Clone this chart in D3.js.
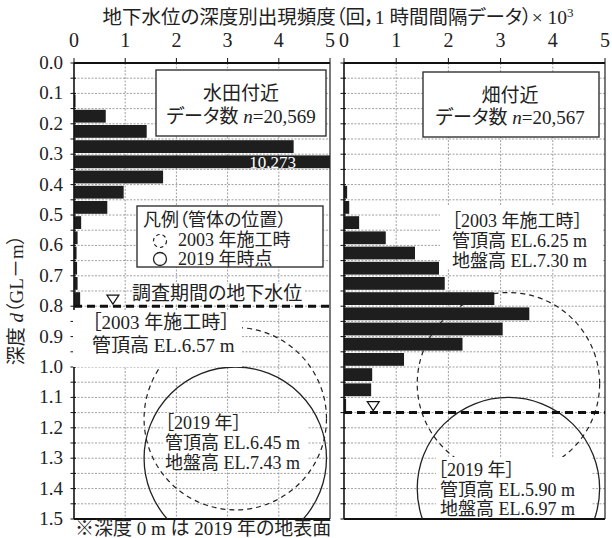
<!DOCTYPE html>
<html>
<head>
<meta charset="utf-8">
<script src="https://cdn.jsdelivr.net/npm/d3@7"></script>
<style>
  body { margin: 0; background: #fff; }
  svg { display: block; }
  text { font-family: "Liberation Serif", "Noto Sans CJK JP", serif; fill: #222; font-feature-settings: "palt"; }
</style>
</head>
<body>
<svg id="chart"></svg>
<script>
// depth bins (start of each 0.05 m bin) and frequencies (x10^3)
const paddyBins   = [0.10, 0.15, 0.20, 0.25, 0.30, 0.35, 0.40, 0.45, 0.50, 0.55, 0.60, 0.65, 0.70, 0.75];
const paddyCounts = [0.03, 0.62, 1.42, 4.29, 10.273, 1.74, 0.97, 0.65, 0.14, 0.07, 0.05, 0.06, 0.07, 0.12];
const fieldBins   = [0.40, 0.45, 0.50, 0.55, 0.60, 0.65, 0.70, 0.75, 0.80, 0.85, 0.90, 0.95, 1.00, 1.05, 1.10];
const fieldCounts = [0.06, 0.10, 0.29, 0.80, 1.36, 1.82, 1.93, 2.88, 3.55, 3.04, 2.27, 1.15, 0.54, 0.52, 0.04];

const xTicks = [0, 1, 2, 3, 4, 5];
const yTicks = [0.0, 0.1, 0.2, 0.3, 0.4, 0.5, 0.6, 0.7, 0.8, 0.9, 1.0, 1.1, 1.2, 1.3, 1.4, 1.5];
const yTickLabels = ["0.0","0.1","0.2","0.3","0.4","0.5","0.6","0.7","0.8","0.9","1.0","1.1","1.2","1.3","1.4","1.5"];

// water level depth, triangle marker position (x10^3)
const waterLevel = [0.80, 1.15];
const markerX = [0.76, 0.56];
// pipe top depth (2003, 2019), pipe centre on x axis, pipe radius in m
const pipeTop2003 = [0.87, 0.755];
const pipeTop2019 = [1.00, 1.10];
const pipeCenterX = [3.15, 3.15];
const pipeRadius = 0.3;

const width = 612, height = 538;
const svg = d3.select("#chart").attr("width", width).attr("height", height);

const y = d3.scaleLinear().domain([0, 1.5]).range([63, 519]);
const panels = [
  { x: d3.scaleLinear().domain([0, 5]).range([74, 330]), bins: paddyBins, counts: paddyCounts },
  { x: d3.scaleLinear().domain([0, 5]).range([344, 605]), bins: fieldBins, counts: fieldCounts }
];

const defs = svg.append("defs");
const font = 19;

panels.forEach((p, i) => {
  const [x0, x1] = p.x.range();
  defs.append("clipPath").attr("id", "clip" + i)
    .append("rect").attr("x", x0).attr("y", y(0)).attr("width", x1 - x0).attr("height", y(1.5) - y(0));

  const g = svg.append("g");

  // grid lines
  g.selectAll(".hg").data(d3.range(1, 30).map(k => k * 0.05)).join("line")
    .attr("x1", x0).attr("x2", x1).attr("y1", d => y(d)).attr("y2", d => y(d))
    .attr("stroke", "#888").attr("stroke-width", 0.8).attr("stroke-dasharray", "2,1.5");
  g.selectAll(".vg").data(xTicks.slice(1, -1)).join("line")
    .attr("x1", d => p.x(d)).attr("x2", d => p.x(d)).attr("y1", y(0)).attr("y2", y(1.5))
    .attr("stroke", "#888").attr("stroke-width", 0.8).attr("stroke-dasharray", "2,1.5");

  // bars
  g.append("g").attr("clip-path", `url(#clip${i})`)
    .selectAll("rect").data(p.bins).join("rect")
    .attr("x", x0)
    .attr("y", d => y(d) + 1.2)
    .attr("width", (d, j) => p.x(p.counts[j]) - x0)
    .attr("height", d => y(d + 0.05) - y(d) - 2.4)
    .attr("fill", "#1e1e1e");

  // axis frame
  g.append("line").attr("x1", x0).attr("x2", x1).attr("y1", y(0)).attr("y2", y(0))
    .attr("stroke", "#111").attr("stroke-width", 2);
  g.append("line").attr("x1", x0).attr("x2", x1).attr("y1", y(1.5)).attr("y2", y(1.5))
    .attr("stroke", "#111").attr("stroke-width", 2);
  g.append("line").attr("x1", x0).attr("x2", x0).attr("y1", y(0)).attr("y2", y(1.5))
    .attr("stroke", "#111").attr("stroke-width", 1.6);
  g.append("line").attr("x1", x1).attr("x2", x1).attr("y1", y(0)).attr("y2", y(1.5))
    .attr("stroke", "#222").attr("stroke-width", 1.2);

  // ticks
  g.selectAll(".yt").data(d3.range(0, 31).map(k => k * 0.05)).join("line")
    .attr("x1", x0 - 3.5).attr("x2", x0 + 2).attr("y1", d => y(d)).attr("y2", d => y(d))
    .attr("stroke", "#111").attr("stroke-width", 1);
  g.selectAll(".xt").data(xTicks).join("line")
    .attr("x1", d => p.x(d)).attr("x2", d => p.x(d)).attr("y1", y(0) - 5).attr("y2", y(0))
    .attr("stroke", "#111").attr("stroke-width", 1);
  g.selectAll(".xl").data(xTicks).join("text")
    .attr("x", d => p.x(d)).attr("y", 47)
    .attr("text-anchor", "middle").attr("font-size", 20)
    .text(d => d);

  // pipe circles
  const cg = g.append("g").attr("clip-path", `url(#clip${i})`);
  const r = y(pipeRadius) - y(0);
  cg.append("circle").attr("cx", p.x(pipeCenterX[i])).attr("cy", y(pipeTop2003[i] + pipeRadius)).attr("r", r)
    .attr("fill", "none").attr("stroke", "#222").attr("stroke-width", 1.2).attr("stroke-dasharray", "5,4");
  cg.append("circle").attr("cx", p.x(pipeCenterX[i])).attr("cy", y(pipeTop2019[i] + pipeRadius)).attr("r", r)
    .attr("fill", "none").attr("stroke", "#222").attr("stroke-width", 1.3);

  // water level
  g.append("line").attr("x1", x0).attr("x2", x1).attr("y1", y(waterLevel[i])).attr("y2", y(waterLevel[i]))
    .attr("stroke", "#111").attr("stroke-width", 3).attr("stroke-dasharray", "8,5");
  const mx = p.x(markerX[i]), my = y(waterLevel[i]) - 2;
  g.append("path").attr("d", `M${mx - 6},${my - 9}L${mx + 6},${my - 9}L${mx},${my}Z`)
    .attr("fill", "#fff").attr("stroke", "#111").attr("stroke-width", 1.2);
});

// y labels
svg.selectAll(".yl").data(yTicks).join("text")
  .attr("x", 63).attr("y", d => y(d) + 6)
  .attr("text-anchor", "end").attr("font-size", font)
  .text((d, i) => yTickLabels[i]);

// title
const title = svg.append("text").attr("x", 338).attr("y", 24).attr("text-anchor", "middle")
  .attr("font-size", 19.5);
title.append("tspan").text("地下水位の深度別出現頻度（回，1 時間間隔データ）× 10");
title.append("tspan").attr("dy", -7).attr("font-size", 13).text("3");

// y title
const yt = svg.append("text").attr("transform", "translate(23,300) rotate(-90)")
  .attr("text-anchor", "middle").attr("font-size", font);
yt.append("tspan").text("深度 ");
yt.append("tspan").attr("font-style", "italic").text("d");
yt.append("tspan").text("（GL－m）");

// helper: white boxes and text lines
function box(x, yy, w, h, stroke) {
  svg.append("rect").attr("x", x).attr("y", yy).attr("width", w).attr("height", h)
    .attr("fill", "#fff").attr("stroke", stroke ? "#333" : "none").attr("stroke-width", 1.4);
}
function line(x, yy, str, anchor, size) {
  return svg.append("text").attr("x", x).attr("y", yy).attr("text-anchor", anchor || "start")
    .attr("font-size", size || font).text(str);
}

// site boxes
box(156, 70, 170, 66, true);
line(241, 100, "水田付近", "middle");
let t = svg.append("text").attr("x", 241).attr("y", 123).attr("text-anchor", "middle").attr("font-size", font);
t.append("tspan").text("データ数 ");
t.append("tspan").attr("font-style", "italic").text("n");
t.append("tspan").text("=20,569");

box(423, 72, 176, 65, true);
line(510, 102, "畑付近", "middle");
t = svg.append("text").attr("x", 510).attr("y", 124).attr("text-anchor", "middle").attr("font-size", font);
t.append("tspan").text("データ数 ");
t.append("tspan").attr("font-style", "italic").text("n");
t.append("tspan").text("=20,567");

// bar value label
svg.append("text").attr("x", 296).attr("y", 168).attr("text-anchor", "end")
  .attr("font-size", 17).style("fill", "#fff").text("10,273");

// legend
box(137, 206, 186, 61, true);
line(143, 226, "凡例（管体の位置）", "start", 18);
svg.append("circle").attr("cx", 160).attr("cy", 241).attr("r", 6.5)
  .attr("fill", "none").attr("stroke", "#222").attr("stroke-width", 1.2).attr("stroke-dasharray", "3.5,3");
line(178, 246, "2003 年施工時", "start", 18);
svg.append("circle").attr("cx", 160).attr("cy", 259).attr("r", 6.5)
  .attr("fill", "none").attr("stroke", "#222").attr("stroke-width", 1.3);
line(178, 265, "2019 年時点", "start", 18);

// water level label
box(132, 284, 172, 19, false);
line(132, 300, "調査期間の地下水位");

// 2003 pipe notes
box(73, 310, 169, 57, false);
line(92, 329, "［2003 年施工時］");
line(92, 352, "管頂高 EL.6.57 m");

box(440, 206, 163, 62, false);
line(452, 227, "［2003 年施工時］", "start", 18);
line(452, 247, "管頂高 EL.6.25 m", "start", 18);
line(452, 267, "地盤高 EL.7.30 m", "start", 18);

// 2019 pipe notes
box(163, 413, 145, 57, false);
line(165, 429, "［2019 年］", "start", 18);
line(165, 449, "管頂高 EL.6.45 m", "start", 18);
line(165, 469, "地盤高 EL.7.43 m", "start", 18);

box(436, 457, 156, 60, false);
line(438, 476, "［2019 年］", "start", 18);
line(440, 496, "管頂高 EL.5.90 m", "start", 18);
line(440, 515, "地盤高 EL.6.97 m", "start", 18);

// footnote
line(75, 535, "※深度 0 m は 2019 年の地表面");
</script>
</body>
</html>
